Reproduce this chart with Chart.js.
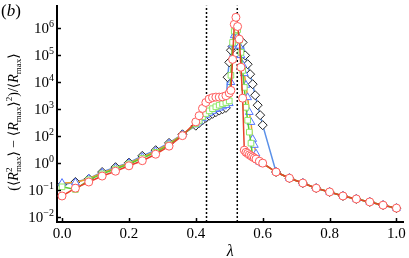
<!DOCTYPE html>
<html>
<head>
<meta charset="utf-8">
<script src="https://cdn.jsdelivr.net/npm/chart.js"></script>
<style>
  body { margin: 0; background: #fff; }
  canvas { display: block; }
</style>
</head>
<body>
<canvas id="chart" width="409" height="258"></canvas>
<script>
// lambda sampling shared by all series
const lamLow = [0, 0.04, 0.08, 0.12, 0.16, 0.20, 0.24, 0.28, 0.32, 0.36, 0.40];
const lamHigh = [0.64, 0.68, 0.72, 0.76, 0.80, 0.84, 0.88, 0.92, 0.96, 1.00];
// log10 of the values, as placed on the axis (one decade per tick)
const logHigh = [-0.33, -0.56, -0.74, -0.93, -1.07, -1.22, -1.33, -1.44, -1.56, -1.67];

// red circles
const logRedLow = [-1.22, -0.93, -0.70, -0.48, -0.30, -0.10, 0.09, 0.33, 0.63, 1.02, 1.53];
const lamRedMid = [0.41, 0.42, 0.43, 0.44, 0.45, 0.46, 0.47, 0.48, 0.49, 0.50, 0.505, 0.51, 0.515, 0.52, 0.525, 0.53, 0.535, 0.54, 0.545, 0.55, 0.555, 0.56, 0.565, 0.57, 0.575, 0.58, 0.59, 0.60];
const logRedMid = [1.76, 2.03, 2.25, 2.38, 2.43, 2.45, 2.45, 2.46, 2.50, 2.60, 2.70, 3.85, 5.15, 5.41, 5.07, 4.60, 3.56, 2.41, 0.48, 0.40, 0.36, 0.31, 0.27, 0.23, 0.19, 0.15, 0.07, 0.0];

// green squares
const logGreenLow = [-0.88, -0.98, -0.62, -0.40, -0.22, -0.03, 0.18, 0.40, 0.68, 1.04, 1.46];
const lamGreenMid = [0.41, 0.42, 0.43, 0.44, 0.45, 0.46, 0.47, 0.48, 0.49, 0.50, 0.505, 0.51, 0.515, 0.52, 0.525, 0.53, 0.535, 0.54, 0.545, 0.55, 0.555, 0.56, 0.565, 0.57, 0.58, 0.59, 0.60];
const logGreenMid = [1.58, 1.72, 1.84, 1.94, 2.02, 2.09, 2.15, 2.20, 2.25, 2.31, 3.26, 4.48, 4.90, 5.05, 4.95, 4.56, 4.11, 3.44, 2.81, 2.07, 1.59, 1.15, 0.74, 0.22, 0.15, 0.07, 0.0];

// blue triangles
const logBlueLow = [-0.74, -0.72, -0.58, -0.36, -0.18, 0.0, 0.22, 0.44, 0.72, 1.06, 1.43];
const lamBlueMid = [0.41, 0.42, 0.43, 0.44, 0.45, 0.46, 0.47, 0.48, 0.49, 0.50, 0.505, 0.51, 0.515, 0.52, 0.525, 0.53, 0.535, 0.54, 0.545, 0.55, 0.555, 0.56, 0.565, 0.57, 0.575, 0.58, 0.59, 0.60];
const logBlueMid = [1.54, 1.66, 1.77, 1.86, 1.93, 2.00, 2.05, 2.10, 2.15, 2.22, 3.00, 4.40, 4.74, 4.85, 4.70, 4.35, 4.00, 3.65, 3.33, 2.90, 2.44, 1.89, 1.52, 0.89, 0.67, 0.35, 0.05, -0.02];

// black diamonds
const logDiaLow = [-0.80, -0.70, -0.58, -0.33, -0.15, 0.02, 0.27, 0.48, 0.75, 1.07, 1.39];
const lamDiaMid = [0.41, 0.42, 0.43, 0.44, 0.45, 0.46, 0.47, 0.48, 0.49, 0.495, 0.50, 0.505, 0.51, 0.52, 0.53, 0.54, 0.5475, 0.555, 0.5625, 0.57, 0.5775, 0.585, 0.5925, 0.60];
const logDiaMid = [1.49, 1.59, 1.68, 1.76, 1.83, 1.89, 1.95, 2.00, 2.05, 3.19, 3.74, 4.19, 4.33, 4.50, 4.60, 4.48, 4.00, 3.67, 3.30, 2.93, 2.52, 2.15, 1.78, 1.41];

// dotted markers of the two transitions
const lamMarks = [0.432, 0.524];

const xTicks = [0, 0.2, 0.4, 0.6, 0.8, 1.0];
const yTickValues = [1e-2, 1e-1, 1, 1e1, 1e2, 1e3, 1e4, 1e5];
const yTickExp = ['\u22122', '\u22121', '0', '2', '3', '4', '5', '6'];

const yMin = Math.pow(10, -2.185);
const yMax = Math.pow(10, 5.85);

const pts = (lams, logs) => lams.map((x, i) => ({ x, y: Math.pow(10, logs[i]) }));

const series = (lamMid, logLow, logMid) =>
  pts(lamLow.concat(lamMid, lamHigh), logLow.concat(logMid, logHigh));

const SERIF = '"Liberation Serif", "DejaVu Serif", serif';
const font = (size, italic) => (italic ? 'italic ' : '') + size + 'px ' + SERIF;

// sizes for the rotated axis title
const T_BIG = 14, T_SMALL = 9;

function segWidth(ctx, s) {
  if (s.k === 'ss') {
    ctx.font = font(T_SMALL);
    return Math.max(ctx.measureText(s.sup).width, ctx.measureText(s.sub).width);
  }
  ctx.font = font(s.k === 'sup' || s.k === 'sub' ? T_SMALL : T_BIG, s.k === 'i');
  return ctx.measureText(s.t).width;
}

function drawRich(ctx, segs, x, y) {
  ctx.textAlign = 'left';
  ctx.textBaseline = 'alphabetic';
  segs.forEach(s => {
    const w = segWidth(ctx, s);
    if (s.k === 'ss') {
      ctx.fillText(s.sup, x, y - 6);
      ctx.fillText(s.sub, x, y + 3);
    } else if (s.k === 'sup') {
      ctx.fillText(s.t, x, y - 6);
    } else if (s.k === 'sub') {
      ctx.fillText(s.t, x, y + 3);
    } else {
      ctx.fillText(s.t, x, y);
    }
    x += w;
  });
}

const yTitle = [
  { t: '(\u27E8', k: 'n' }, { t: 'R', k: 'i' }, { k: 'ss', sup: '2', sub: 'max' },
  { t: '\u27E9 \u2212 \u27E8', k: 'n' }, { t: 'R', k: 'i' }, { t: 'max', k: 'sub' },
  { t: '\u27E9', k: 'n' }, { t: '2', k: 'sup' }, { t: ')/\u27E8', k: 'n' },
  { t: 'R', k: 'i' }, { t: 'max', k: 'sub' }, { t: '\u27E9', k: 'n' }
];

const decor = {
  id: 'decor',
  afterDraw(chart) {
    const { ctx, chartArea: a, scales: { x, y } } = chart;
    ctx.save();
    ctx.strokeStyle = '#000';
    ctx.fillStyle = '#000';
    ctx.lineWidth = 1.5;

    // inward ticks
    ctx.beginPath();
    xTicks.forEach(v => {
      const px = Math.round(x.getPixelForValue(v)) + 0.5;
      ctx.moveTo(px, a.bottom);
      ctx.lineTo(px, a.bottom - 4);
    });
    yTickValues.forEach(v => {
      const py = Math.round(y.getPixelForValue(v)) + 0.5;
      ctx.moveTo(a.left, py);
      ctx.lineTo(a.left + 4, py);
    });
    ctx.stroke();

    // y tick labels 10^k
    ctx.textBaseline = 'alphabetic';
    yTickValues.forEach((v, i) => {
      const py = y.getPixelForValue(v);
      ctx.font = font(10);
      const ew = ctx.measureText(yTickExp[i]).width;
      ctx.textAlign = 'left';
      ctx.fillText(yTickExp[i], 54 - ew, py - 1);
      ctx.font = font(15);
      ctx.textAlign = 'right';
      ctx.fillText('10', 54 - ew, py + 5);
    });

    // y title, rotated
    const w = yTitle.reduce((s, g) => s + segWidth(ctx, g), 0);
    ctx.save();
    ctx.translate(13, 122);
    ctx.rotate(-Math.PI / 2);
    drawRich(ctx, yTitle, -w / 2, 5);
    ctx.restore();

    // x title
    ctx.font = font(16, true);
    ctx.textAlign = 'center';
    ctx.fillText('\u03BB', (a.left + a.right) / 2, 256);

    // panel label
    ctx.textAlign = 'left';
    ctx.font = font(17);
    ctx.fillText('(', 1, 16);
    const pw = ctx.measureText('(').width;
    ctx.font = font(17, true);
    ctx.fillText('b', 1 + pw, 16);
    const bw = ctx.measureText('b').width;
    ctx.font = font(17);
    ctx.fillText(')', 1 + pw + bw, 16);
    ctx.restore();
  }
};

const markerSet = (style, radius, edge, line, data) => ({
  data,
  borderColor: line,
  borderWidth: 1.5,
  pointStyle: style,
  pointRadius: radius,
  pointBorderColor: edge,
  pointBackgroundColor: '#fff',
  pointBorderWidth: 1,
  clip: false
});

const dotted = lam => ({
  data: [{ x: lam, y: yMin }, { x: lam, y: yMax }],
  borderColor: '#000',
  borderWidth: 1.5,
  borderDash: [2, 2],
  pointRadius: 0
});

new Chart(document.getElementById('chart'), {
  type: 'line',
  data: {
    datasets: [
      markerSet('circle', 4, '#ff5a5a', '#e8402a', series(lamRedMid, logRedLow, logRedMid)),
      markerSet('rect', 4, '#8ee866', '#5ccb35', series(lamGreenMid, logGreenLow, logGreenMid)),
      markerSet('triangle', 4.5, '#5576ff', '#f0a02a', series(lamBlueMid, logBlueLow, logBlueMid)),
      markerSet('rectRot', 4.5, '#222', '#5a90e8', series(lamDiaMid, logDiaLow, logDiaMid)),
      dotted(lamMarks[0]),
      dotted(lamMarks[1])
    ]
  },
  options: {
    responsive: false,
    animation: false,
    devicePixelRatio: 1,
    layout: { padding: { left: 0, right: 2, top: 5, bottom: 0 } },
    plugins: { legend: { display: false }, tooltip: { enabled: false } },
    elements: { line: { tension: 0 } },
    scales: {
      x: {
        type: 'linear',
        min: -0.015,
        max: 1.021,
        afterBuildTicks: s => { s.ticks = xTicks.map(v => ({ value: v })); },
        afterFit: s => { s.height = 36; },
        grid: { display: false, drawTicks: false },
        border: { display: true, color: '#000', width: 2 },
        ticks: {
          color: '#000',
          padding: 3,
          maxRotation: 0,
          font: { family: SERIF, size: 15 },
          callback: v => v.toFixed(1)
        }
      },
      y: {
        type: 'logarithmic',
        min: yMin,
        max: yMax,
        afterBuildTicks: s => { s.ticks = yTickValues.map(v => ({ value: v })); },
        afterFit: s => { s.width = 57; },
        grid: { display: false, drawTicks: false },
        border: { display: true, color: '#000', width: 2 },
        ticks: { display: false }
      }
    }
  },
  plugins: [decor]
});
</script>
</body>
</html>
